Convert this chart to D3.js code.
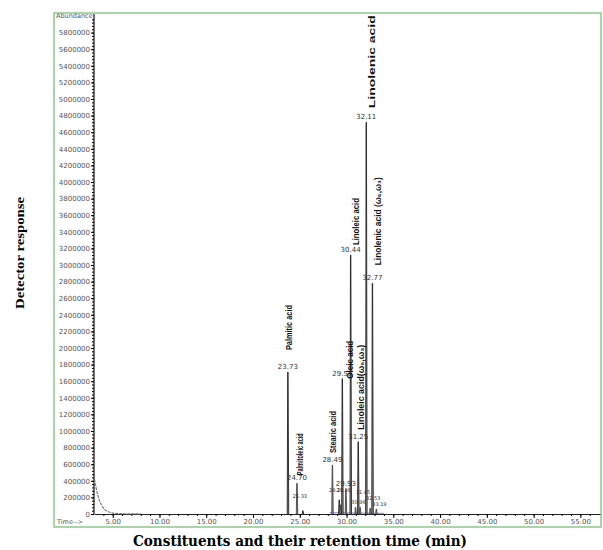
<!DOCTYPE html>
<html lang="en">
  <head>
    <meta charset="UTF-8" />
    <title>GC-MS chromatogram</title>
    <style>
      body { margin: 0; background: #fff; }
    </style>
  </head>
  <body>
    <svg id="svg" width="603" height="550"></svg>

    <script src="https://d3js.org/d3.v7.min.js"></script>
    <script>
      // peaks (retention time in min, abundance)
      const peakTimes = [23.73, 24.70, 25.33, 28.49, 29.22, 29.38, 29.55, 29.93, 30.44, 30.96, 31.25, 31.45, 32.11, 32.53, 32.77, 33.19];
      const peakValues = [1710000, 370000, 40000, 590000, 170000, 110000, 1630000, 300000, 3120000, 80000, 870000, 80000, 4720000, 70000, 2780000, 60000];
      const peakLabels = ["23.73", "24.70", "25.33", "28.49", "29.22", "29.38", "29.55", "29.93", "30.44", "30.96", "31.25", "31.45", "32.11", "32.53", "32.77", "33.19"];

      // compound names and the peak each belongs to
      const compoundNames = ["Palmitic acid", "Palmitoleic acid", "Stearic acid", "Oleic acid", "Linoleic acid", "Linolenic acid", "Linolenic acid (ω₆,ω₃)", "Linoleic acid(ω₆,ω₃)"];
      const compoundPeak = [0, 1, 3, 6, 8, 12, 14, 10];

      // solvent tail at the start of the run
      const tailTimes = [3.05, 3.2, 3.4, 3.6, 3.8, 4.0, 4.3, 4.7, 5.2, 6.0, 8.0];
      const tailValues = [420000, 330000, 230000, 160000, 110000, 70000, 40000, 20000, 8000, 3000, 1000];

      const yTicks = d3.range(0, 6000000, 200000);
      const xTicks = [5, 10, 15, 20, 25, 30, 35, 40, 45, 50, 55];

      const svg = d3.select("#svg");

      const x = d3.scaleLinear().domain([3.0, 57.1]).range([94, 600]);
      const y = d3.scaleLinear().domain([0, 6000000]).range([514, 16]);

      // green frame
      svg.append("rect")
        .attr("x", 54).attr("y", 13)
        .attr("width", 547).attr("height", 514)
        .attr("fill", "none")
        .attr("stroke", "#8cc98c")
        .attr("stroke-width", 1.5);

      // y axis, major labelled + dense minor ticks
      const yAxis = svg.append("g")
        .attr("transform", "translate(94,0)")
        .call(d3.axisLeft(y).tickValues(yTicks).tickFormat((d) => d).tickSize(3).tickSizeOuter(0));
      yAxis.select(".domain").attr("stroke", "#222").attr("stroke-width", 1.3).attr("d", "M0,14V514");
      yAxis.selectAll("text").attr("font-size", 7).attr("font-family", "DejaVu Sans").attr("fill", "#555").attr("x", -4);
      svg.append("g")
        .attr("transform", "translate(94,0)")
        .call(d3.axisLeft(y).tickValues(d3.range(0, 6000000, 40000)).tickFormat("").tickSize(2).tickSizeOuter(0))
        .select(".domain").remove();

      // x axis
      const xAxis = svg.append("g")
        .attr("transform", "translate(0,514)")
        .call(d3.axisBottom(x).tickValues(xTicks).tickFormat(d3.format(".2f")).tickSize(4).tickSizeOuter(0));
      xAxis.select(".domain").attr("stroke", "#222").attr("stroke-width", 1.2);
      xAxis.selectAll("text").attr("font-size", 7).attr("font-family", "DejaVu Sans").attr("fill", "#555").attr("y", 5);
      svg.append("g")
        .attr("transform", "translate(0,514)")
        .call(d3.axisBottom(x).tickValues(d3.range(4, 57, 1)).tickFormat("").tickSize(2).tickSizeOuter(0))
        .select(".domain").remove();

      svg.append("text").attr("x", 56).attr("y", 18)
        .attr("font-size", 6.5).attr("font-family", "DejaVu Sans").attr("fill", "#555")
        .text("Abundance");
      svg.append("text").attr("x", 57).attr("y", 524)
        .attr("font-size", 6.5).attr("font-family", "DejaVu Sans").attr("fill", "#555")
        .text("Time-->");

      // solvent tail
      const tail = tailTimes.map((t, i) => [t, tailValues[i]]);
      svg.append("path")
        .attr("d", d3.line().x((d) => x(d[0])).y((d) => y(d[1])).curve(d3.curveMonotoneX)(tail))
        .attr("fill", "none")
        .attr("stroke", "#777")
        .attr("stroke-width", 1.2)
        .attr("stroke-dasharray", "3,1");

      // faint blue baseline under the cluster
      svg.append("path")
        .attr("d", d3.line()([[x(28.2), y(15000)], [x(34.0), y(8000)]]))
        .attr("stroke", "#5566bb").attr("stroke-width", 0.8).attr("fill", "none");

      // peaks
      const peakLine = d3.line().x((d) => x(d[0])).y((d) => y(d[1]));
      peakTimes.forEach((t, i) => {
        const pts = [[t - 0.07, 0], [t - 0.02, peakValues[i]], [t + 0.02, peakValues[i]], [t + 0.09, 0]];
        svg.append("path")
          .attr("d", peakLine(pts))
          .attr("fill", "#999")
          .attr("stroke", i % 2 ? "#444" : "#222")
          .attr("stroke-width", 0.9);
      });

      // retention time labels; small peaks get a smaller font, staggered
      peakTimes.forEach((t, i) => {
        const small = peakValues[i] < 200000;
        svg.append("text")
          .attr("x", x(t) + (small ? (i % 2 ? 3 : -3) : 0))
          .attr("y", y(peakValues[i]) - 3 - (small ? (i % 3) * 5 : 0))
          .attr("text-anchor", "middle")
          .attr("font-size", small ? 5 : 7)
          .attr("font-family", "DejaVu Sans")
          .attr("fill", "#333")
          .text(peakLabels[i]);
      });

      // rotated compound names
      const nameLen = [45, 42, 42, 38, 47, 93, 88, 85];
      const nameDx = [0, 2, 0, 7, 4, 5, 5, 2];
      const nameGap = [22, 8, 12, 0, 10, 14, 18, 12];
      compoundNames.forEach((n, i) => {
        const p = compoundPeak[i];
        const cx = x(peakTimes[p]) + nameDx[i];
        const bottom = y(peakValues[p]) - nameGap[i];
        svg.append("text")
          .attr("transform", `translate(${cx + 4},${bottom}) rotate(-90)`)
          .attr("font-size", 9.5)
          .attr("font-weight", "bold")
          .attr("font-family", "Liberation Sans Narrow, Liberation Sans, sans-serif")
          .attr("textLength", nameLen[i])
          .attr("lengthAdjust", "spacingAndGlyphs")
          .attr("fill", "#111")
          .text(n);
      });

      // axis titles
      svg.append("text")
        .attr("transform", "translate(24,253) rotate(-90)")
        .attr("text-anchor", "middle")
        .attr("font-size", 12)
        .attr("font-weight", "bold")
        .attr("font-family", "Liberation Serif, serif")
        .attr("textLength", 112)
        .attr("lengthAdjust", "spacingAndGlyphs")
        .text("Detector response");
      svg.append("text")
        .attr("x", 300).attr("y", 546)
        .attr("text-anchor", "middle")
        .attr("font-size", 14)
        .attr("font-weight", "bold")
        .attr("font-family", "DejaVu Serif, serif")
        .attr("textLength", 334)
        .attr("lengthAdjust", "spacingAndGlyphs")
        .text("Constituents and their retention time (min)");
    </script>
  </body>
</html>
